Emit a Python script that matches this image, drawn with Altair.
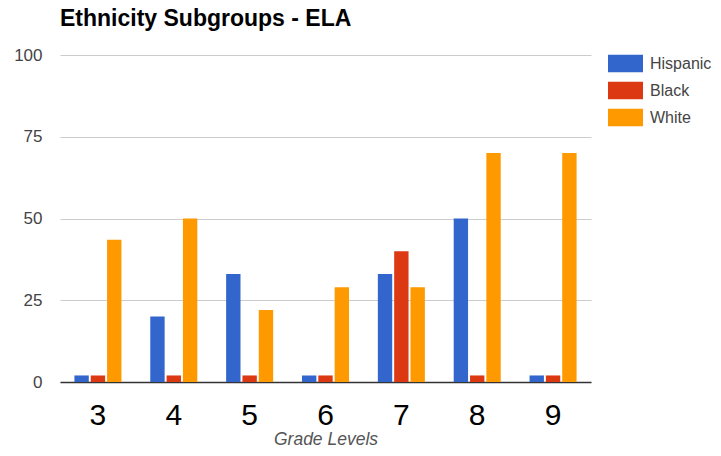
import altair as alt
import pandas as pd

grades = ["3", "4", "5", "6", "7", "8", "9"]
groups = ["Hispanic", "Black", "White"]
hispanic = [2, 20, 33, 2, 33, 50, 2]
black = [2, 2, 2, 2, 40, 2, 2]
white = [43.5, 50, 22, 29, 29, 70, 70]
colors = ["#3366cc", "#dc3912", "#ff9900"]

rows = []
for i, g in enumerate(grades):
    for name, vals in zip(groups, [hispanic, black, white]):
        rows.append({"grade": g, "group": name, "value": vals[i]})
df = pd.DataFrame(rows)

chart = alt.Chart(df).mark_bar().encode(
    x=alt.X("grade:N", sort=grades, title="Grade Levels",
            scale=alt.Scale(paddingInner=0.38, paddingOuter=0.19),
            axis=alt.Axis(labelAngle=0, labelFontSize=30, labelColor="#000000",
                          labelFont="Liberation Sans", labelPadding=18, ticks=False,
                          domainColor="#333333", domainWidth=1.5,
                          titleFont="Liberation Sans", titleFontSize=17.5,
                          titleFontStyle="italic", titleFontWeight="normal",
                          titleColor="#555555", titlePadding=0)),
    xOffset=alt.XOffset("group:N", sort=groups, scale=alt.Scale(paddingInner=0.12)),
    y=alt.Y("value:Q", title=None,
            scale=alt.Scale(domain=[0, 100]),
            axis=alt.Axis(values=[0, 25, 50, 75, 100], labelFontSize=17,
                          labelColor="#444444", labelFont="Liberation Sans",
                          labelPadding=18, ticks=False, domain=False,
                          gridColor="#cccccc")),
    color=alt.Color("group:N", sort=groups,
                    scale=alt.Scale(domain=groups, range=colors),
                    legend=alt.Legend(title=None, orient="none", legendX=548, legendY=-9,
                                      symbolType="M-1,-0.5H1V0.5H-1Z", symbolSize=1225,
                                      symbolStrokeWidth=0, symbolOpacity=1,
                                      labelFontSize=16, labelColor="#444444",
                                      labelFont="Liberation Sans", labelOffset=7,
                                      rowPadding=0)),
).properties(
    width=531, height=327,
    padding={"left": 5, "top": 0, "right": 0, "bottom": 0},
    title=alt.TitleParams("Ethnicity Subgroups - ELA", anchor="start", frame="group",
                          fontSize=23, font="Liberation Sans", fontWeight="bold",
                          color="#000000", offset=6, dy=-9),
).configure_view(stroke=None).configure_axis(gridWidth=1)

chart.save("out.html", embed_options={"renderer": "svg", "actions": False})
